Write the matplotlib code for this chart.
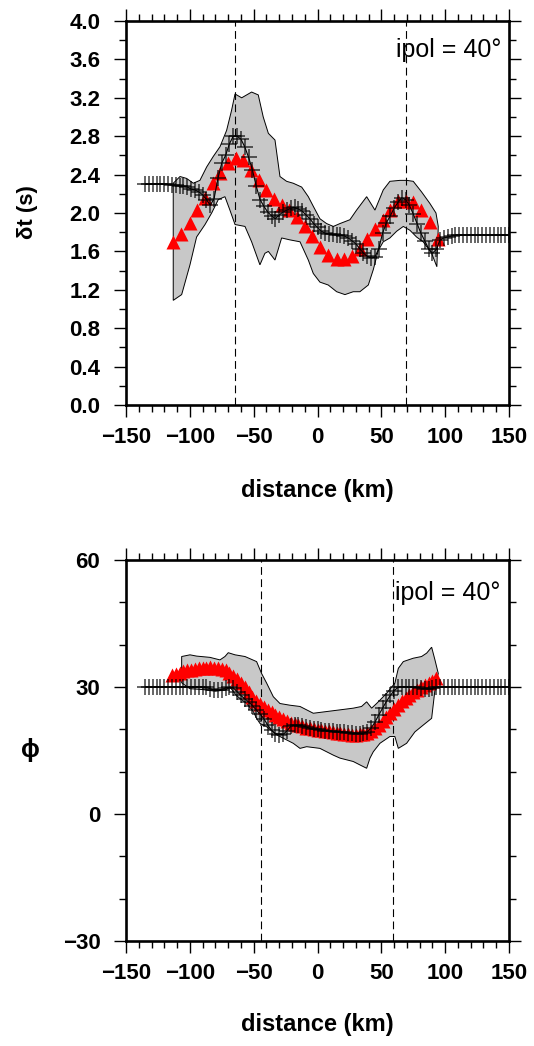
import numpy as np
import matplotlib
matplotlib.use('Agg')
import matplotlib.pyplot as plt
from matplotlib.ticker import MultipleLocator, FuncFormatter

plt.rcParams['font.family'] = ['Liberation Sans', 'DejaVu Sans']
plt.rcParams['font.weight'] = 'bold'

# ---------------- top panel (delay time) ----------------
dt_cross_x = np.arange(-135, 151, 3)
dt_cross = [2.30, 2.30, 2.30, 2.30, 2.30, 2.30, 2.30, 2.29, 2.29, 2.28,
            2.28, 2.27, 2.25, 2.24, 2.22, 2.19, 2.14, 2.08, 2.15, 2.36,
            2.52, 2.60, 2.72, 2.80, 2.80, 2.77, 2.69, 2.58, 2.45, 2.28,
            2.14, 2.07, 2.01, 1.97, 1.94, 1.98, 2.01, 2.03, 2.05, 2.06,
            2.04, 2.02, 1.98, 1.94, 1.89, 1.85, 1.81, 1.79, 1.78, 1.78,
            1.77, 1.77, 1.76, 1.74, 1.71, 1.68, 1.63, 1.58, 1.55, 1.53,
            1.54, 1.63, 1.79, 1.90, 1.97, 2.05, 2.11, 2.16, 2.14, 2.08,
            1.99, 1.89, 1.79, 1.71, 1.63, 1.58, 1.62, 1.72, 1.74, 1.75,
            1.76, 1.77, 1.77, 1.77, 1.77, 1.77, 1.77, 1.77, 1.77, 1.77,
            1.77, 1.77, 1.77, 1.77, 1.77, 1.77]
dt_tri_x = [-113, -107, -100, -94, -88, -82, -76, -70, -64, -58, -52, -46,
            -40, -34, -28, -22, -16, -10, -4, 2, 8, 15, 21, 27, 33, 39, 45,
            51, 57, 63, 69, 75, 81, 88, 94]
dt_tri = [1.70, 1.78, 1.90, 2.03, 2.16, 2.31, 2.42, 2.52, 2.57, 2.55, 2.45,
          2.34, 2.24, 2.15, 2.08, 2.03, 1.96, 1.86, 1.76, 1.65, 1.56, 1.52,
          1.52, 1.55, 1.63, 1.73, 1.83, 1.93, 2.03, 2.12, 2.12, 2.11, 2.03,
          1.91, 1.73]
dt_up_x = [-113, -107.7, -102.5, -97.3, -92.1, -86.8, -81.6, -76.4, -71.2,
           -67.3, -64.6, -59.4, -51.6, -46.4, -42.5, -38.5, -33.3, -29.4,
           -24.2, -19.0, -12.4, -7.2, -3.3, 1.9, 7.1, 12.4, 17.6, 25.4, 30.6,
           38.5, 45.0, 51.5, 56.7, 64.6, 69.8, 75.0, 81.5, 88.0, 92.8, 94.6]
dt_up = [2.31, 2.38, 2.36, 2.31, 2.34, 2.48, 2.59, 2.69, 2.86, 3.07, 3.24,
         3.20, 3.26, 3.23, 3.00, 2.83, 2.76, 2.38, 2.33, 2.31, 2.27, 2.17,
         2.07, 1.94, 1.89, 1.86, 1.89, 1.93, 2.03, 2.17, 2.03, 2.24, 2.33,
         2.34, 2.34, 2.33, 2.22, 2.10, 2.00, 1.86]
dt_lo_x = [-113, -106.4, -99.9, -94.7, -88.1, -82.9, -77.7, -72.5, -68.6,
           -64.6, -56.8, -51.6, -45.1, -41.2, -38.5, -33.3, -28.1, -21.6,
           -13.7, -7.2, -3.3, 1.9, 8.4, 15.0, 21.5, 28.0, 33.2, 39.8, 43.7,
           47.6, 51.5, 56.7, 62.0, 67.2, 72.4, 77.6, 82.8, 89.4, 93.5]
dt_lo = [1.09, 1.15, 1.46, 1.75, 1.88, 2.00, 2.14, 2.17, 2.03, 1.88, 1.86,
         1.70, 1.46, 1.58, 1.60, 1.51, 1.74, 1.72, 1.70, 1.51, 1.37, 1.28,
         1.25, 1.18, 1.15, 1.18, 1.18, 1.25, 1.41, 1.61, 1.70, 1.74, 1.81,
         1.86, 1.82, 1.75, 1.70, 1.58, 1.44]
dt_dash = [-64.5, 69.5]

# ---------------- bottom panel (fast direction) ----------------
phi_cross_x = np.arange(-135, 151, 3)
phi_cross = [30.0] * 16 + [
    29.9, 29.6, 29.3, 29.2, 29.4, 29.8, 30.0, 29.8, 28.9, 28.0,
    27.2, 26.5, 25.6, 24.6, 23.6, 22.5, 21.0, 19.8, 19.0, 18.7,
    18.8, 19.6, 20.7, 21.0, 21.0, 20.8, 20.6, 20.2, 20.0, 20.0,
    19.8, 19.7, 19.6, 19.5, 19.4, 19.4, 19.3, 19.2, 19.1, 19.0,
    19.0, 19.1, 19.4, 20.3, 21.7, 23.4, 25.0, 26.6, 28.0, 29.1,
    29.9, 30.1, 30.1, 30.0, 30.0, 29.9, 29.7, 29.6, 29.5, 29.7,
    29.9] + [30.0] * 19
phi_tri_x = np.arange(-114, 94, 3)
phi_tri = [32.8, 33.1, 33.4, 33.7, 33.9, 34.1, 34.3, 34.5, 34.6, 34.6,
           34.7, 34.6, 34.5, 34.3, 33.9, 33.3, 32.7, 32.0, 31.0, 29.9,
           28.8, 27.6, 26.7, 25.9, 25.2, 24.6, 24.0, 23.4, 22.9, 22.4,
           22.0, 21.6, 21.3, 21.0, 20.7, 20.4, 20.2, 20.0, 19.9, 19.8,
           19.6, 19.5, 19.3, 19.2, 19.1, 19.0, 18.8, 18.7, 18.7, 18.8,
           18.9, 19.1, 19.6, 20.3, 21.1, 22.0, 23.0, 23.9, 24.8, 25.7,
           26.6, 27.5, 28.2, 28.8, 29.3, 29.9, 30.4, 30.9, 31.5, 32.1]
phi_up_x = [-106.4, -99.9, -94.7, -84.2, -76.4, -72.5, -69.9, -64.6, -56.8,
            -47.7, -43.8, -39.8, -34.6, -29.4, -21.6, -13.7, -3.3, 7.1, 17.6,
            28.0, 34.5, 38.5, 42.4, 46.3, 54.1, 60.6, 63.3, 67.2, 75.0, 81.5,
            85.5, 89.4, 92.0, 94.6]
phi_up = [37.2, 37.6, 37.3, 37.0, 36.4, 37.2, 38.1, 37.6, 37.2, 36.0, 33.2,
          30.9, 27.7, 26.1, 25.7, 25.4, 23.8, 24.2, 24.6, 25.0, 25.4, 26.5,
          25.0, 26.1, 28.5, 30.9, 34.4, 36.0, 36.8, 37.2, 38.0, 39.4, 36.4,
          33.2]
phi_lo_x = [-106.4, -100.0, -90.0, -80.0, -72.0, -68.6, -63.3, -55.5, -50.3,
            -47.7, -45.1, -39.8, -32.0, -24.2, -19.0, -13.7, -8.5, 1.9, 12.4,
            17.6, 28.0, 33.2, 38.5, 41.1, 43.7, 48.9, 52.8, 56.7, 60.6, 63.3,
            69.8, 76.3, 82.8, 89.4, 92.0]
phi_lo = [31.0, 29.6, 29.4, 29.0, 29.3, 30.0, 27.9, 26.1, 24.2, 22.6, 21.4,
          20.6, 18.7, 17.5, 16.7, 15.5, 15.9, 15.5, 13.9, 13.2, 12.4, 11.6,
          10.8, 13.2, 14.7, 16.7, 17.5, 18.3, 18.3, 15.5, 16.7, 19.4, 21.0,
          22.6, 29.3]
phi_dash = [-44.0, 59.5]

W, H = 534, 1046
fig = plt.figure(figsize=(W / 100, H / 100), dpi=100)
ax1 = fig.add_axes([126 / W, 1 - 405 / H, 383 / W, 384 / H])
ax2 = fig.add_axes([126 / W, 1 - 941 / H, 383 / W, 381 / H])


def draw(ax, cx, cy, tx, ty, ux, uy, lx, ly, dashes):
    px = np.concatenate([ux, lx[::-1]])
    py = np.concatenate([uy, ly[::-1]])
    ax.fill(px, py, facecolor='#c8c8c8', edgecolor='black', lw=0.7, zorder=1)
    for d in dashes:
        ax.axvline(d, color='black', lw=0.8, ls=(0, (7, 4)), zorder=2)
    ax.plot(tx, ty, ls='none', marker='^', ms=10, color='red', mec='none',
            zorder=3)
    ax.plot(cx, cy, color='black', lw=0.8, zorder=4)
    ax.plot(cx, cy, ls='none', marker='+', ms=12, mew=1.2, color='black',
            alpha=0.7, zorder=5)


def uminus(fmt):
    return FuncFormatter(lambda v, p: (fmt % v).replace('-', '\u2212'))


def style(ax, ylim, ymaj, ymin, fmt):
    ax.set_xlim(-150, 150)
    ax.set_ylim(*ylim)
    ax.xaxis.set_major_locator(MultipleLocator(50))
    ax.xaxis.set_minor_locator(MultipleLocator(10))
    ax.xaxis.set_major_formatter(uminus('%d'))
    ax.yaxis.set_major_locator(MultipleLocator(ymaj))
    ax.yaxis.set_minor_locator(MultipleLocator(ymin))
    ax.yaxis.set_major_formatter(uminus(fmt))
    ax.tick_params(which='both', direction='out', top=True, right=True,
                   width=1.0, labelsize=16)
    ax.tick_params(which='major', length=8.5)
    ax.tick_params(which='minor', length=5)
    ax.tick_params(axis='x', which='major', pad=7)
    ax.tick_params(axis='y', which='major', pad=10)
    for s in ax.spines.values():
        s.set_linewidth(1.9)
        s.set_zorder(6)


draw(ax1, dt_cross_x, dt_cross, dt_tri_x, dt_tri, np.array(dt_up_x),
     np.array(dt_up), np.array(dt_lo_x), np.array(dt_lo), dt_dash)
draw(ax2, phi_cross_x, phi_cross, phi_tri_x, phi_tri, np.array(phi_up_x),
     np.array(phi_up), np.array(phi_lo_x), np.array(phi_lo), phi_dash)
style(ax1, (0, 4.0), 0.4, 0.2, '%.1f')
style(ax2, (-30, 60), 30, 10, '%d')

ax1.text(0.981, 0.906, 'ipol = 40°', transform=ax1.transAxes, ha='right',
         va='baseline', fontsize=18, fontweight='normal', zorder=7)
ax2.text(0.977, 0.895, 'ipol = 40°', transform=ax2.transAxes, ha='right',
         va='baseline', fontsize=18, fontweight='normal', zorder=7)

fig.text(317 / W, 1 - 490 / H, 'distance (km)', ha='center', va='center',
         fontsize=17)
fig.text(317 / W, 1 - 1025 / H, 'distance (km)', ha='center', va='center',
         fontsize=17)
fig.text(28 / W, 1 - 212 / H, 'δt (s)', ha='center', va='center',
         rotation=90, fontsize=16)
fig.text(30 / W, 1 - 750 / H, 'ϕ', ha='center', va='center', fontsize=18)

fig.savefig('out.png', dpi=100)
